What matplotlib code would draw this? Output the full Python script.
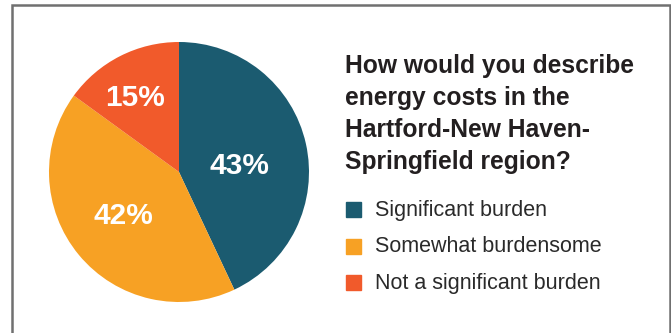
import numpy as np
import matplotlib.pyplot as plt
from matplotlib.patches import Rectangle

plt.rcParams['font.family'] = ['Liberation Sans', 'DejaVu Sans']

# Survey answers
categories = ["Significant burden", "Somewhat burdensome", "Not a significant burden"]
shares = [43, 42, 15]
colors = ["#1b5b70", "#f7a124", "#f15a2b"]
question = "How would you describe\nenergy costs in the\nHartford-New Haven-\nSpringfield region?"

W, H = 671, 333
fig = plt.figure(figsize=(W / 100, H / 100), dpi=100)

# thin grey frame around the panel (open at the bottom)
frame = Rectangle((11.5 / W, -0.05), (669.5 - 11.5) / W, (H - 4.5) / H + 0.05,
                  transform=fig.transFigure, fill=False, edgecolor="#707070",
                  linewidth=1.8)
fig.patches.append(frame)

# pie: centre (179, 172), radius 130 px
cx, cy, r = 179, 172, 130
ax = fig.add_axes([(cx - r) / W, (H - cy - r) / H, 2 * r / W, 2 * r / H])
wedges, _ = ax.pie(shares, colors=colors, startangle=90, counterclock=False,
                   wedgeprops=dict(linewidth=0))
ax.set_xlim(-1, 1)
ax.set_ylim(-1, 1)
ax.set_aspect("equal")

# percentage labels: radial distance and a small angular nudge per slice
label_dist = [0.47, 0.53, 0.68]
label_turn = [-4, -3, 3]
for w, val, d, t in zip(wedges, shares, label_dist, label_turn):
    ang = np.deg2rad((w.theta1 + w.theta2) / 2 + t)
    ax.text(d * np.cos(ang), d * np.sin(ang), f"{val}%", color="white",
            fontsize=21.5, fontweight="bold", ha="center", va="center_baseline")

# question heading
fig.text(345 / W, 1 - 54 / H, question, fontsize=17.7, fontweight="bold",
         color="#231f20", ha="left", va="top", linespacing=1.42)

# legend
for i, (lab, col) in enumerate(zip(categories, colors)):
    y = 209.5 + i * 36.5
    fig.patches.append(Rectangle((346 / W, 1 - (y + 7.5) / H), 15 / W, 15 / H,
                                 transform=fig.transFigure, color=col))
    fig.text(375 / W, 1 - (y + 1) / H, lab, fontsize=15.5, color="#2a2a2a",
             ha="left", va="center")

fig.savefig("out.png", dpi=100)
